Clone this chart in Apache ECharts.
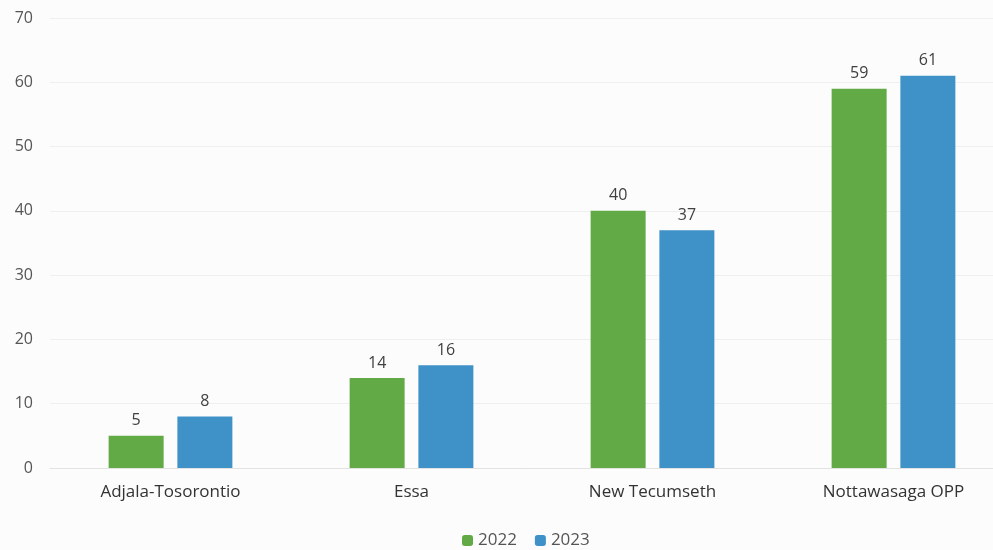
<!DOCTYPE html>
<html><head><meta charset="utf-8">
<script src="https://cdn.jsdelivr.net/npm/echarts@6/dist/echarts.min.js"></script>
<style>html,body{margin:0;padding:0;background:#fcfcfc}#c{width:993px;height:550px}</style>
</head><body><div id="c"></div>
<script>
const categories = ['Adjala-Tosorontio', 'Essa', 'New Tecumseth', 'Nottawasaga OPP'];
const years = ['2022', '2023'];
const values2022 = [5, 14, 40, 59];
const values2023 = [8, 16, 37, 61];
const yTicks = [0, 10, 20, 30, 40, 50, 60, 70];

const chart = echarts.init(document.getElementById('c'));
const labelStyle = {show: true, position: 'top', distance: 7, color: '#404040', fontSize: 16, fontFamily: 'Open Sans'};
chart.setOption({
  backgroundColor: '#fcfcfc',
  animation: false,
  grid: {left: 50, width: 964, top: 18, height: 450, outerBoundsMode: 'none', containLabel: false},
  legend: {
    top: 527, left: 457, itemWidth: 11, itemHeight: 11, itemGap: 18,
    textStyle: {color: '#555', fontSize: 17, fontFamily: 'Open Sans'},
    data: years
  },
  xAxis: {
    type: 'category', data: categories,
    axisLine: {lineStyle: {color: '#e2e2e2'}},
    axisTick: {show: false},
    axisLabel: {color: '#333', fontSize: 17, fontFamily: 'Open Sans', margin: 16}
  },
  yAxis: {
    type: 'value', min: yTicks[0], max: yTicks[yTicks.length - 1], interval: 10,
    axisLine: {show: false}, axisTick: {show: false},
    axisLabel: {color: '#555', fontSize: 16, fontFamily: 'Open Sans', margin: 17, align: 'right'},
    splitLine: {lineStyle: {color: '#efefef'}}
  },
  series: [
    {name: years[0], type: 'bar', data: values2022, barWidth: 55, barGap: '25%',
     itemStyle: {color: '#62aa46'}, label: labelStyle},
    {name: years[1], type: 'bar', data: values2023, barWidth: 55,
     itemStyle: {color: '#3f92c8'}, label: labelStyle}
  ]
});
</script></body></html>
